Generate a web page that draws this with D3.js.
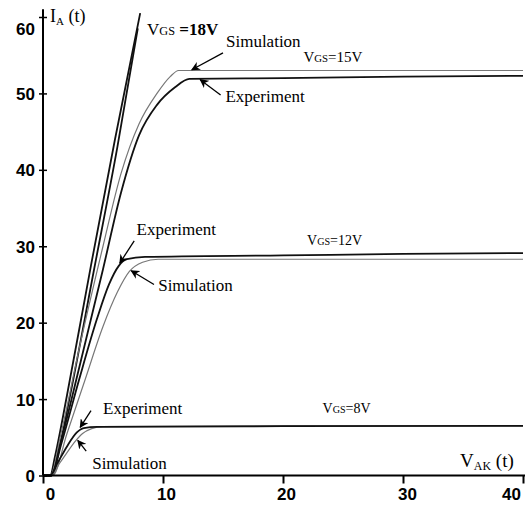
<!DOCTYPE html>
<html>
<head>
<meta charset="utf-8">
<script src="https://cdn.jsdelivr.net/npm/d3@7/dist/d3.min.js"></script>
<style>
  html, body { margin: 0; padding: 0; background: #fff; }
  svg { display: block; }
</style>
</head>
<body>
<svg id="chart" width="527" height="509"></svg>
<script>
// ---- data ----
const xTicks = [0, 10, 20, 30, 40];
const yTicks = [0, 10, 20, 30, 40, 50, 60];

// V_AK values and I_A values for each curve
const exp18X = [0, 0.6, 1.0, 2.0, 4.0, 6.0, 8.1];
const exp18Y = [0, 0, 2.5, 10.5, 27.5, 44, 60.5];
const sim18X = [0, 0.7, 1.2, 2.2, 4.2, 6.2, 7.9];
const sim18Y = [0, 0, 2.5, 10, 26.5, 43, 58.5];

const exp15X = [0, 0.7, 1.5, 3.0, 5.0, 6.5, 8.0, 9.5, 11.0, 12.2, 20, 30, 40];
const exp15Y = [0, 0, 4.5, 14, 27, 37, 44.5, 48.5, 50.8, 51.9, 52.0, 52.2, 52.3];
const sim15X = [0, 0.6, 1.5, 3.0, 5.0, 6.5, 8.0, 9.5, 10.6, 11.3, 20, 30, 40];
const sim15Y = [0, 0, 5.5, 16.5, 30, 39.5, 46, 50, 52.2, 53.0, 53.0, 53.0, 53.0];

const exp12X = [0, 0.7, 1.5, 3.0, 4.5, 5.5, 6.3, 7.0, 8.5, 20, 30, 40];
const exp12Y = [0, 0, 4, 12.5, 20.5, 25, 27.4, 28.3, 28.6, 28.8, 29.0, 29.1];
const sim12X = [0, 0.8, 2.0, 3.5, 5.0, 6.2, 7.2, 8.3, 9.6, 20, 30, 40];
const sim12Y = [0, 0, 5.5, 12.5, 19.5, 24, 26.7, 27.9, 28.3, 28.3, 28.3, 28.3];

const exp8X = [0, 0.6, 1.2, 2.0, 2.8, 3.4, 4.5, 20, 40];
const exp8Y = [0, 0, 1.6, 3.8, 5.6, 6.2, 6.35, 6.45, 6.5];
const sim8X = [0, 0.7, 1.3, 2.0, 2.7, 3.3, 4.0, 5.0, 20, 40];
const sim8Y = [0, 0, 1.4, 3.0, 4.5, 5.5, 6.1, 6.4, 6.5, 6.5];

const seriesNames = ["exp18", "sim18", "exp15", "sim15", "exp12", "sim12", "exp8", "sim8"];

// ---- layout ----
const svg = d3.select("#chart");
const x = d3.scaleLinear().domain([0, 40]).range([43, 523]);
const y = d3.scaleLinear().domain([0, 60]).range([475.5, 17]);

const serif = "'Liberation Serif', 'Times New Roman', serif";
const sans = "'Liberation Sans', Arial, sans-serif";

function build(xs, ys) { return xs.map((v, i) => [v, ys[i]]); }
const series = [
  { name: "exp18", pts: build(exp18X, exp18Y), kind: "exp" },
  { name: "sim18", pts: build(sim18X, sim18Y), kind: "exp" },
  { name: "sim15", pts: build(sim15X, sim15Y), kind: "sim" },
  { name: "exp15", pts: build(exp15X, exp15Y), kind: "exp" },
  { name: "sim12", pts: build(sim12X, sim12Y), kind: "sim" },
  { name: "exp12", pts: build(exp12X, exp12Y), kind: "exp" },
  { name: "sim8", pts: build(sim8X, sim8Y), kind: "sim" },
  { name: "exp8", pts: build(exp8X, exp8Y), kind: "exp" }
];

const line = d3.line().x(d => x(d[0])).y(d => y(d[1])).curve(d3.curveMonotoneX);

svg.append("g").selectAll("path").data(series).join("path")
  .attr("d", d => line(d.pts))
  .attr("fill", "none")
  .attr("stroke", d => d.kind === "exp" ? "#111" : "#777")
  .attr("stroke-width", d => d.kind === "exp" ? 1.8 : 1.2);

// ---- axes ----
const xAxis = svg.append("g").attr("transform", `translate(0,${y(0)})`)
  .call(d3.axisBottom(x).tickValues(xTicks).tickSize(8).tickPadding(4));
xAxis.select(".domain").attr("stroke", "#000").attr("stroke-width", 2)
  .attr("d", `M${x(0)},0H${x(40) + 2}`);
xAxis.selectAll(".tick line").attr("stroke", "#000").attr("stroke-width", 2);
xAxis.selectAll(".tick text")
  .attr("font-family", sans).attr("font-weight", "bold").attr("font-size", 17)
  .attr("fill", "#000")
  .attr("dx", d => d === 0 ? 7 : (d === 40 ? -12 : (d === 30 ? 4 : 3)));

const yAxis = svg.append("g").attr("transform", `translate(${x(0)},0)`)
  .call(d3.axisLeft(y).tickValues(yTicks).tickSize(4).tickPadding(4));
yAxis.select(".domain").attr("stroke", "#000").attr("stroke-width", 2)
  .attr("d", `M0,${y(0)}V${y(61)}`);
yAxis.selectAll(".tick line").attr("stroke", "#000").attr("stroke-width", 1.5)
  .attr("x1", 4);
yAxis.selectAll(".tick text")
  .attr("font-family", sans).attr("font-weight", "bold").attr("font-size", 17)
  .attr("fill", "#000")
  .attr("dy", d => d === 60 ? "1.05em" : "0.36em");

// ---- axis titles ----
const ia = svg.append("text").attr("x", x(0) + 7).attr("y", 22)
  .attr("font-family", serif).attr("font-size", 18);
ia.append("tspan").text("I");
ia.append("tspan").attr("font-size", 11).attr("dy", 3).text("A");
ia.append("tspan").attr("dy", -3).text(" (t)");

const vak = svg.append("text").attr("x", 460).attr("y", 467)
  .attr("font-family", serif).attr("font-size", 19);
vak.append("tspan").text("V");
vak.append("tspan").attr("font-size", 12).attr("dy", 3).text("AK");
vak.append("tspan").attr("dy", -3).text(" (t)");

// ---- VGS labels (data coordinates) ----
const vgsLabels = [
  { v: "=18V", x: 8.67, y: 57.7, bold: true, size: 17 },
  { v: "=15V", x: 21.7, y: 54.1, bold: false, size: 15 },
  { v: "=12V", x: 22.0, y: 30.2, bold: false, size: 14 },
  { v: "=8V", x: 23.3, y: 8.2, bold: false, size: 14 }
];
vgsLabels.forEach(l => {
  const t = svg.append("text").attr("x", x(l.x)).attr("y", y(l.y))
    .attr("font-family", serif).attr("font-size", l.size);
  t.append("tspan").text("V");
  t.append("tspan").attr("font-size", l.size * 0.72).text("GS");
  t.append("tspan").attr("font-weight", l.bold ? "bold" : "normal")
    .text(l.bold ? " " + l.v : l.v);
});

// ---- annotations with arrows (data coordinates) ----
const notes = [
  { t: "Simulation", tx: 15.25, ty: 56.1, x1: 15.0, y1: 55.3, x2: 12.4, y2: 53.1 },
  { t: "Experiment", tx: 15.2, ty: 48.9, x1: 14.8, y1: 49.8, x2: 13.1, y2: 51.8 },
  { t: "Experiment", tx: 7.8, ty: 31.5, x1: 7.6, y1: 30.7, x2: 6.4, y2: 27.8 },
  { t: "Simulation", tx: 9.6, ty: 24.1, x1: 9.25, y1: 25.0, x2: 7.35, y2: 26.8 },
  { t: "Experiment", tx: 5.0, ty: 8.05, x1: 4.0, y1: 8.5, x2: 3.1, y2: 6.3 },
  { t: "Simulation", tx: 4.1, ty: 0.85, x1: 3.6, y1: 3.2, x2: 2.9, y2: 4.6 }
];

svg.append("defs").append("marker")
  .attr("id", "ah").attr("viewBox", "0 0 10 10").attr("refX", 9).attr("refY", 5)
  .attr("markerWidth", 9).attr("markerHeight", 9).attr("markerUnits", "userSpaceOnUse")
  .attr("orient", "auto")
  .append("path").attr("d", "M0,0L10,5L0,10L3,5Z").attr("fill", "#000");

const ng = svg.append("g");
ng.selectAll("line").data(notes).join("line")
  .attr("x1", d => x(d.x1)).attr("y1", d => y(d.y1))
  .attr("x2", d => x(d.x2)).attr("y2", d => y(d.y2))
  .attr("stroke", "#000").attr("stroke-width", 1.3)
  .attr("marker-end", "url(#ah)");
ng.selectAll("text").data(notes).join("text")
  .attr("x", d => x(d.tx)).attr("y", d => y(d.ty))
  .attr("font-family", serif).attr("font-size", 17).attr("fill", "#000")
  .text(d => d.t);
</script>
</body>
</html>
